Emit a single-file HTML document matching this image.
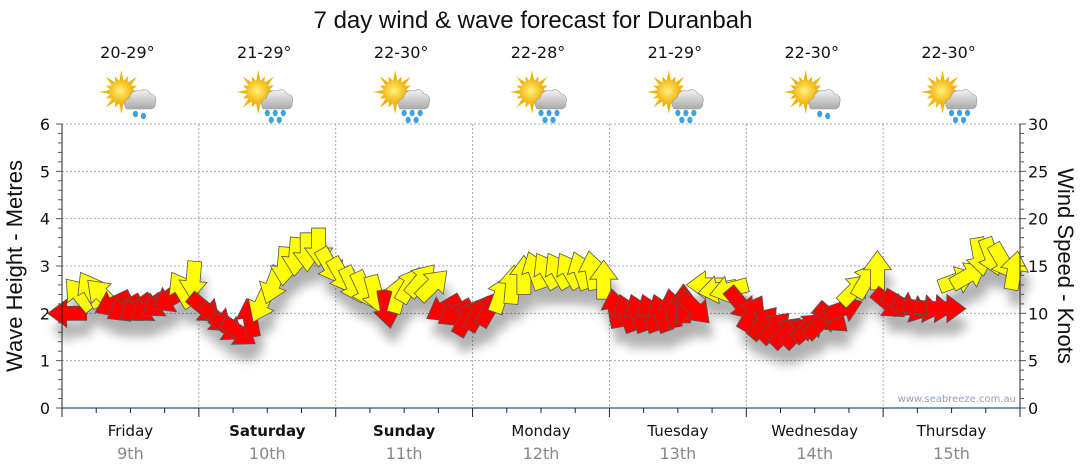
<!DOCTYPE html>
<html><head><meta charset="utf-8"><style>
html,body{margin:0;padding:0;background:#fff;}
svg{display:block;font-family:"Liberation Sans","DejaVu Sans",sans-serif;}
.v{font-family:"DejaVu Sans","Liberation Sans",sans-serif;}
</style></head><body>
<svg id="chart" width="1080" height="475" viewBox="0 0 1080 475" xmlns="http://www.w3.org/2000/svg">
<defs>
<filter id="shadow" x="-50%" y="-50%" width="200%" height="200%"><feGaussianBlur stdDeviation="5"/></filter>
<radialGradient id="sunG" cx="0.45" cy="0.45" r="0.6"><stop offset="0" stop-color="#fff27a"/><stop offset="1" stop-color="#f2a900"/></radialGradient>
<linearGradient id="cloudG" x1="0" y1="0" x2="0" y2="1"><stop offset="0" stop-color="#f4f4f4"/><stop offset="1" stop-color="#a9a9a9"/></linearGradient>
</defs>
<text x="533" y="28" font-size="24" text-anchor="middle" fill="#111">7 day wind &amp; wave forecast for Duranbah</text>
<g id="grid"></g>
<g id="shadows" filter="url(#shadow)" opacity="0.3"></g>
<g id="arrows"></g>
<g id="axes"></g>
<g id="header"></g>
<text transform="translate(22,266) rotate(-90)" font-size="22" text-anchor="middle" fill="#111">Wave Height - Metres</text>
<text transform="translate(1058,266) rotate(90)" font-size="22" text-anchor="middle" fill="#111">Wind Speed - Knots</text>
<text class="v" x="1016" y="402" font-size="10" text-anchor="end" fill="#8aa2bf">www.seabreeze.com.au</text>
</svg>
<script>
const days = ["Friday","Saturday","Sunday","Monday","Tuesday","Wednesday","Thursday"];
const dates = ["9th","10th","11th","12th","13th","14th","15th"];
const boldDays = [false,true,true,false,false,false,false];
const temps = ["20-29°","21-29°","22-30°","22-28°","21-29°","22-30°","22-30°"];
const heavyRain = [false,true,true,true,true,false,true];
const leftTicks = [0,1,2,3,4,5,6];
const rightTicks = [0,5,10,15,20,25,30];
const windKnots = [
10,12,12.5,12,11,10.5,10.5,10.5,11,11.5,12.5,13.5,
10.5,9.5,8.5,8,9.5,11,13,15,16,16.5,17,15,
14,13,12.5,12,10.5,12,13,13.5,13,10.5,10,9.5,
10,10.5,12,13,14,14.5,14.5,14.5,14.5,14.5,14.5,13.5,
10.5,10,10,10,10,10.5,11,10.5,13,12.5,12.5,11,
10,9,8.5,8,8,8.5,9,9.5,10.5,12.5,13.5,14.5,
11,11,10.5,10.5,10.5,10.5,13.5,14,16,16,15.5,14.5];
const windDir = [
180,-130,-120,-135,155,150,145,145,145,150,-120,95,
40,40,35,35,-100,115,110,95,95,90,90,60,
60,65,65,75,80,-75,-60,-50,-45,150,150,-60,
-60,-60,-70,-85,-90,-110,-120,-120,-120,-110,-100,-90,
-100,-110,-110,-110,-110,-100,-90,45,180,170,165,50,
-60,-50,-45,-45,-45,-40,-45,40,-20,-45,-60,-90,
40,30,20,10,5,0,-20,-30,80,70,60,-80];
const windCol = [
"r","y","y","y","r","r","r","r","r","r","y","y",
"r","r","r","r","r","y","y","y","y","y","y","y",
"y","y","y","y","r","y","y","y","y","r","r","r",
"r","r","y","y","y","y","y","y","y","y","y","y",
"r","r","r","r","r","r","r","r","y","y","y","r",
"r","r","r","r","r","r","r","r","r","y","y","y",
"r","r","r","r","r","r","y","y","y","y","y","y"];

const NS="http://www.w3.org/2000/svg";
const X0=62,X1=1020,Y0=408,Y1=124,DW=(X1-X0)/7;
const yL=v=>Y0-(Y0-Y1)*v/6;
const yR=v=>Y0-(Y0-Y1)*v/30;
const xT=i=>X0+(i+0.5)*DW/12;
function mk(tag,attrs,parent){const e=document.createElementNS(NS,tag);for(const k in attrs)e.setAttribute(k,attrs[k]);parent.appendChild(e);return e;}
const grid=document.getElementById('grid'),axes=document.getElementById('axes'),hdr=document.getElementById('header');
for(const v of leftTicks){ if(v===0)continue;
 const l=mk('line',{x1:X0,x2:X1,y1:yL(v),y2:yL(v),stroke:'#aaa','stroke-dasharray':'2,2'},grid);
 
 }
for(let d=1;d<7;d++){const x=X0+d*DW;
 const l=mk('line',{x1:x,x2:x,y1:Y1,y2:Y0,stroke:'#aaa','stroke-dasharray':'2,2'},grid);
 
 }
mk('line',{x1:X0,x2:X0,y1:Y1,y2:Y0+9,stroke:'#222'},axes);
mk('line',{x1:X1,x2:X1,y1:Y1,y2:Y0+9,stroke:'#222'},axes);
mk('line',{x1:X0,x2:X1,y1:Y0,y2:Y0,stroke:'#1b5a86','stroke-width':1.3},axes);
for(let k=0;k<=30;k++){const y=Y0-(Y0-Y1)*k/30;
 mk('line',{x1:X0-(k%5===0?6:4),x2:X0,y1:y,y2:y,stroke:'#555'},axes);
 mk('line',{x1:X1,x2:X1+(k%5===0?6:4),y1:y,y2:y,stroke:'#555'},axes);}
for(const v of leftTicks){const t=mk('text',{class:'v',x:X0-12,y:yL(v)+6,'font-size':16,'text-anchor':'end',fill:'#111'},axes);t.textContent=v;
 
 }
for(const v of rightTicks){const t=mk('text',{class:'v',x:X1+8,y:yR(v)+6,'font-size':16,fill:'#111'},axes);t.textContent=v;
 
 }
for(let k=0;k<=28;k++){const x=X0+k*DW/4;mk('line',{x1:x,x2:x,y1:Y0,y2:Y0+(k%4===0?9:5),stroke:'#222'},axes);}
days.forEach((d,i)=>{const cx=X0+(i+0.5)*DW;
 const t=mk('text',{class:'v',x:cx,y:436,'font-size':15,'text-anchor':'middle',fill:'#111','font-weight':boldDays[i]?'bold':'normal'},axes);t.textContent=d;
 
 
 const t2=mk('text',{class:'v',x:cx,y:459,'font-size':16,'text-anchor':'middle',fill:'#888'},axes);t2.textContent=dates[i];
 
 
 const t3=mk('text',{class:'v',x:cx-3,y:58,'font-size':16,'text-anchor':'middle',fill:'#111'},hdr);t3.textContent=temps[i];
 
 
 const g=mk('g',{transform:`translate(${cx},97)`},hdr);
 
 
 for(let a=0;a<16;a++){const ang=a*Math.PI/8;const r1=11,r2=(a%2?17:22);
  mk('polygon',{points:`${-9+Math.cos(ang-0.2)*r1},${-5+Math.sin(ang-0.2)*r1} ${-9+Math.cos(ang)*r2},${-5+Math.sin(ang)*r2} ${-9+Math.cos(ang+0.2)*r1},${-5+Math.sin(ang+0.2)*r1}`,fill:'#f0b400'},g);}
 mk('circle',{cx:-9,cy:-5,r:12,fill:'url(#sunG)'},g);
 mk('path',{d:'M-4,12 Q-9,4 -1,1 Q1,-8 10,-6 Q16,-10 20,-3 Q27,-2 25,6 Q25,12 19,12 Z',fill:'url(#cloudG)',stroke:'#999','stroke-width':0.6},g);
 const drops=heavyRain[i]?[[0,16],[8,16],[16,16],[4,23],[12,23]]:[[5,17],[13,19]];
 for(const [dx,dy] of drops) mk('ellipse',{cx:dx,cy:dy,rx:2.6,ry:3.2,fill:'#3ba4e0'},g);
});
const shp=document.getElementById('shadows'),arr=document.getElementById('arrows');
const P="-19,-7 1,-7 1,-14 20,0 1,14 1,7 -19,7";
windKnots.forEach((v,i)=>{const x=xT(i),y=yR(v);
 mk('polygon',{points:P,transform:`translate(${x+4},${y+16}) rotate(${windDir[i]})`,fill:'#000'},shp);
 const a=mk('polygon',{points:P,transform:`translate(${x},${y}) rotate(${windDir[i]})`,fill:windCol[i]==='r'?'#ff0000':'#ffff00',stroke:'#555','stroke-width':0.8},arr);
 
 
});
</script>
</body></html>
